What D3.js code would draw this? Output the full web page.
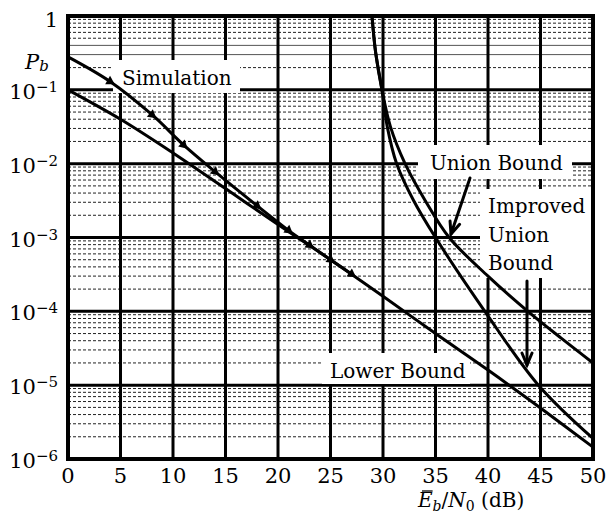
<!DOCTYPE html>
<html>
<head>
<meta charset="utf-8">
<script src="https://cdn.jsdelivr.net/npm/d3@7"></script>
<style>
  html, body { margin: 0; padding: 0; background: #fff; }
  svg { display: block; }
  svg text { font-family: "DejaVu Serif", "Liberation Serif", serif; }
</style>
</head>
<body>
<svg id="chart" width="609" height="517"></svg>
<script>
// axis values
const xTicks = [0, 5, 10, 15, 20, 25, 30, 35, 40, 45, 50];
const yExponents = [-6, -5, -4, -3, -2, -1, 0];

// curves, [Eb/N0 dB, Pb]
const simulation = [
  [0, 0.28], [4, 0.13], [8, 0.046], [11, 0.018], [14, 0.0078],
  [18, 0.0027], [21, 1.25e-3], [23, 7.9e-4], [25, 5.0e-4], [27, 3.2e-4]
];
const lowerBound = [
  [0, 0.1], [5, 0.04], [10, 0.014], [15, 4.6e-3], [20, 1.5e-3], [25, 5.0e-4],
  [30, 1.6e-4], [35, 5.0e-5], [40, 1.6e-5], [45, 4.9e-6], [50, 1.45e-6]
];
const unionBound = [
  [28.95, 1], [29.3, 0.32], [29.9, 0.1], [30.7, 0.032], [32.1, 0.01],
  [34.0, 3.2e-3], [36.3, 1e-3], [40, 3.0e-4], [43.8, 1e-4], [47, 4.3e-5], [50, 2.0e-5]
];
const improvedUnionBound = [
  [28.95, 1], [29.3, 0.32], [29.9, 0.1], [30.4, 0.032], [31.3, 0.01],
  [32.9, 3.2e-3], [35.0, 1e-3], [39.7, 1e-4], [44.8, 1e-5], [50, 1.9e-6]
];

const svg = d3.select("#chart");

const x = d3.scaleLinear().domain([0, 50]).range([68, 593]);
const y = d3.scaleLog().domain([1e-6, 1]).range([459, 16]);

// grid
const grid = svg.append("g");
const minorVals = [];
yExponents.slice(0, -1).forEach(e => {
  for (let k = 2; k <= 9; k++) minorVals.push(k * Math.pow(10, e));
});
grid.selectAll("line.minor")
  .data(minorVals)
  .join("line")
  .attr("x1", x(0)).attr("x2", x(50))
  .attr("y1", d => y(d)).attr("y2", d => y(d))
  .attr("stroke", d => d > 0.25 && d < 0.45 ? "#555" : "#222")
  .attr("stroke-width", 1)
  .attr("stroke-dasharray", d => d > 0.25 && d < 0.45 ? null : "3,2");

grid.selectAll("line.decade")
  .data(yExponents.map(e => Math.pow(10, e)))
  .join("line")
  .attr("x1", x(0)).attr("x2", x(50))
  .attr("y1", d => y(d)).attr("y2", d => y(d))
  .attr("stroke", "#000").attr("stroke-width", 3);

grid.selectAll("line.vert")
  .data(xTicks)
  .join("line")
  .attr("x1", d => x(d)).attr("x2", d => x(d))
  .attr("y1", y(1)).attr("y2", y(1e-6))
  .attr("stroke", "#000").attr("stroke-width", 3);

// white boxes behind the annotations
const boxes = [
  [113, 60, 127, 33],   // Simulation
  [418, 145, 154, 34],  // Union Bound
  [480, 189, 111, 89],  // Improved Union Bound
  [322, 353, 148, 31]   // Lower Bound
];
svg.append("g").selectAll("rect")
  .data(boxes)
  .join("rect")
  .attr("x", d => d[0]).attr("y", d => d[1])
  .attr("width", d => d[2]).attr("height", d => d[3])
  .attr("fill", "#fff");

// frame
svg.append("rect")
  .attr("x", x(0)).attr("y", y(1))
  .attr("width", x(50) - x(0)).attr("height", y(1e-6) - y(1))
  .attr("fill", "none").attr("stroke", "#000").attr("stroke-width", 4);

// curves
const line = d3.line()
  .x(d => x(d[0])).y(d => y(d[1]))
  .curve(d3.curveCatmullRom.alpha(0.5));

const curves = svg.append("g")
  .attr("fill", "none").attr("stroke", "#000")
  .attr("stroke-width", 3).attr("stroke-linejoin", "round");
[lowerBound, simulation, unionBound, improvedUnionBound].forEach(c => {
  curves.append("path").attr("d", line(c));
});

// triangle markers on the simulation curve
svg.append("g").selectAll("path")
  .data(simulation.slice(1))
  .join("path")
  .attr("d", d3.symbol(d3.symbolTriangle, 40))
  .attr("fill", "#000")
  .attr("transform", (d, i) => {
    const prev = simulation[i];
    const ang = Math.atan2(y(d[1]) - y(prev[1]), x(d[0]) - x(prev[0])) * 180 / Math.PI;
    return `translate(${x(d[0])},${y(d[1])}) rotate(${ang + 90})`;
  });

// tick labels
svg.append("g").selectAll("text")
  .data(xTicks)
  .join("text")
  .attr("x", d => x(d)).attr("y", 483)
  .attr("text-anchor", "middle")
  .attr("font-size", 21)
  .text(d => d);

const yl = svg.append("g").selectAll("text")
  .data(yExponents)
  .join("text")
  .attr("x", 58).attr("y", d => y(Math.pow(10, d)) + (d === 0 ? 11 : 9))
  .attr("text-anchor", "end")
  .attr("font-size", 21);
yl.filter(d => d === 0).text("1");
yl.filter(d => d !== 0).each(function (d) {
  const t = d3.select(this);
  t.append("tspan").text("10");
  t.append("tspan").attr("dy", -7).attr("font-size", 15).text("\u2212" + (-d));
});

// axis titles
const pb = svg.append("text")
  .attr("x", 25).attr("y", 69)
  .attr("font-size", 21);
pb.append("tspan").attr("font-style", "italic").text("P");
pb.append("tspan").attr("font-style", "italic").attr("font-size", 15).attr("dy", 2).text("b");

const xt = svg.append("text")
  .attr("x", 418).attr("y", 507)
  .attr("font-size", 20);
xt.append("tspan").attr("font-style", "italic").text("E");
xt.append("tspan").attr("font-style", "italic").attr("font-size", 14).attr("dy", 4).text("b");
xt.append("tspan").attr("dy", -4).text("/");
xt.append("tspan").attr("font-style", "italic").text("N");
xt.append("tspan").attr("font-size", 14).attr("dy", 4).text("0");
xt.append("tspan").attr("dy", -4).text("\u00a0(dB)");
const eBox = xt.node().getExtentOfChar(0);
svg.append("line")
  .attr("x1", eBox.x + 4).attr("x2", eBox.x + eBox.width)
  .attr("y1", eBox.y + 3).attr("y2", eBox.y + 3)
  .attr("stroke", "#000").attr("stroke-width", 1.3);

// annotations
const ann = svg.append("g").attr("font-size", 20);
ann.append("text").attr("x", 122).attr("y", 85).text("Simulation");
ann.append("text").attr("x", 430).attr("y", 170).text("Union Bound");
ann.append("text").attr("x", 488).attr("y", 213).text("Improved");
ann.append("text").attr("x", 488).attr("y", 242).text("Union");
ann.append("text").attr("x", 488).attr("y", 270).text("Bound");
ann.append("text").attr("x", 330).attr("y", 378).text("Lower Bound");

function arrow(x1, y1, x2, y2) {
  const a = Math.atan2(y2 - y1, x2 - x1);
  const L = 13, s = 0.4;
  const w1 = [x2 - L * Math.cos(a - s), y2 - L * Math.sin(a - s)];
  const w2 = [x2 - L * Math.cos(a + s), y2 - L * Math.sin(a + s)];
  const g = svg.append("g").attr("stroke", "#000").attr("fill", "none")
    .attr("stroke-width", 3).attr("stroke-linecap", "round");
  g.append("line").attr("x1", x1).attr("y1", y1).attr("x2", x2).attr("y2", y2);
  g.append("path").attr("d", `M${w1[0]},${w1[1]} L${x2},${y2} L${w2[0]},${w2[1]}`)
    .attr("stroke-linejoin", "miter");
}
arrow(470, 178, 451, 234);
arrow(527, 281, 527, 365);
</script>
</body>
</html>
